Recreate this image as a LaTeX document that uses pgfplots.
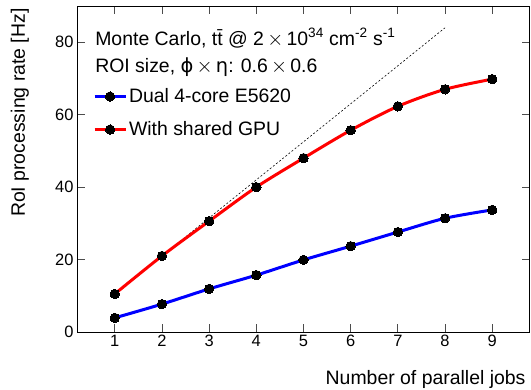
\documentclass[border=0pt]{standalone}
\usepackage{fontspec}
\setmainfont{Liberation Sans}
\newfontfamily\dv{DejaVu Sans}
\usepackage{pgfplots}
\pgfplotsset{compat=1.18}
\definecolor{rblue}{RGB}{0,0,255}
\definecolor{rred}{RGB}{255,0,0}
\begin{document}
\begin{tikzpicture}
\begin{axis}[
  at={(0,0)}, anchor=south west,
  scale only axis, width=453bp, height=326bp,
  xmin=0.2, xmax=9.8, ymin=0, ymax=90,
  xtick={1,...,9}, ytick={0,20,40,60,80},
  minor tick num=0,
  tick align=inside, major tick length=8bp,
  tick style={line width=0.8pt, black!70},
  axis line style={line width=1pt},
  /pgf/number format/assume math mode=true,
  tick label style={font=\fontsize{16.5}{19}\selectfont},
  xlabel={Number of parallel jobs},
  ylabel={RoI processing rate [Hz]},
  xlabel style={at={(axis description cs:1,0)}, anchor=base east, yshift=-52bp, xshift=-1bp, font=\fontsize{19.5}{22}\selectfont},
  ylabel style={at={(axis description cs:0,1)}, anchor=base east, yshift=52bp, xshift=1bp, font=\fontsize{19.5}{22}\selectfont},
  legend style={at={(axis description cs:0.035,0.753)}, anchor=north west, draw=none, fill=none,
    inner sep=0pt, font=\fontsize{19.5}{22}\selectfont, row sep=13.5bp, cells={anchor=west}},
  legend image code/.code={\draw[mark repeat=2,mark phase=2] plot coordinates {(0bp,0) (15.5bp,0) (31bp,0)};},
  clip=false,
]
\addplot[black, line width=0.6pt, dash pattern=on 2pt off 2pt, forget plot] coordinates {(1,10.5) (8,84)};
\addplot[rblue, line width=3bp, smooth, mark=*, mark size=4.7bp, mark options={black, fill=black, line width=0pt}] coordinates {
(1,3.9) (2,7.7) (3,11.9) (4,15.7) (5,19.9) (6,23.7) (7,27.6) (8,31.4) (9,33.7)};
\addlegendentry{Dual 4-core E5620}
\addplot[rred, line width=3bp, smooth, mark=*, mark size=4.7bp, mark options={black, fill=black, line width=0pt}] coordinates {
(1,10.5) (2,21.0) (3,30.6) (4,40.0) (5,48.0) (6,55.7) (7,62.3) (8,67.0) (9,69.8)};
\addlegendentry{With shared GPU}
\node[anchor=base west, inner sep=0pt, font=\fontsize{19.5}{22}\selectfont] at (axis description cs:0.04,0.880)
  {Monte Carlo, t\=t @ 2\,$\times$\,10\textsuperscript{34} cm\textsuperscript{-2} s\textsuperscript{-1}};
\node[anchor=base west, inner sep=0pt, font=\fontsize{19.5}{22}\selectfont] at (axis description cs:0.04,0.797)
  {ROI size, {\dv ϕ}\,$\times$\,{\dv η}: 0.6\,$\times$\,0.6};
\end{axis}
\pgfresetboundingbox
\path[use as bounding box] (-77bp,-58bp) rectangle (454bp,332bp);
\end{tikzpicture}
\end{document}
